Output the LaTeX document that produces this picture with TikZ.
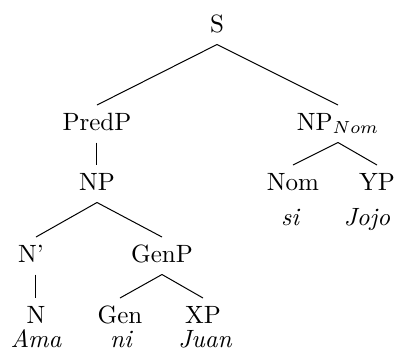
\documentclass[tikz,border=0pt]{standalone}
\tikzset{
  tnode/.style={inner sep=0pt, outer sep=3pt, text height=7pt, text depth=2pt, anchor=base, font=\fontsize{10}{12}\selectfont},
  leaf/.style={tnode, font=\fontsize{10}{12}\selectfont\itshape},
  branch/.style={draw=black, line width=0.4pt}
}
\begin{document}
\begin{tikzpicture}[x=0.4pt,y=-0.4pt]
\useasboundingbox (0,0) rectangle (402,362);
\node[tnode] (S) at (217,32) {S};
\node[tnode] (PredP) at (97,130) {PredP};
\node[tnode] (NPn) at (338,130) {NP$_{Nom}$};
\node[tnode] (NP) at (97,190) {NP};
\node[tnode] (Nom) at (293,190) {Nom};
\node[tnode] (YP) at (377,190) {YP};
\node[leaf] (si) at (290,225) {si};
\node[leaf] (Jojo) at (367,225) {Jojo};
\node[tnode] (Np) at (31,262) {N'};
\node[tnode] (GenP) at (162,262) {GenP};
\node[tnode] (N) at (36,323) {N};
\node[tnode] (Gen) at (120,323) {Gen};
\node[tnode] (XP) at (203,323) {XP};
\node[leaf] (Ama) at (36,347) {Ama};
\node[leaf] (ni) at (121,347) {ni};
\node[leaf] (Juan) at (205,347) {Juan};
\draw[branch] (S.south) -- (PredP.north);
\draw[branch] (S.south) -- (NPn.north);
\draw[branch] (PredP.south) -- (NP.north);
\draw[branch] (NPn.south) -- (Nom.north);
\draw[branch] (NPn.south) -- (YP.north);
\draw[branch] (NP.south) -- (Np.north -| N.north);
\draw[branch] (NP.south) -- (GenP.north);
\draw[branch] (Np.south -| N.north) -- (N.north);
\draw[branch] (GenP.south) -- (Gen.north);
\draw[branch] (GenP.south) -- (XP.north);
\end{tikzpicture}
\end{document}
